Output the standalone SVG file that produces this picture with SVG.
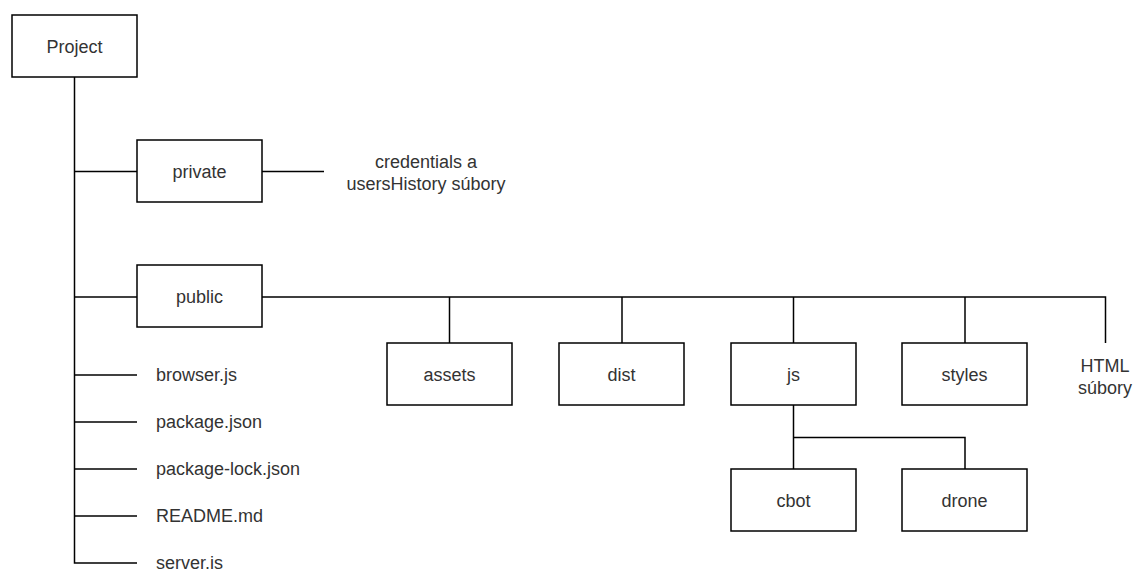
<svg xmlns="http://www.w3.org/2000/svg" width="1134" height="569" viewBox="0 0 1134 569">
  <style>
    .box { fill: #ffffff; stroke: #000000; stroke-width: 1.5; }
    .wire { fill: none; stroke: #000000; stroke-width: 1.5; }
    text { font-family: "Liberation Sans", Arial, sans-serif; font-size: 18px; fill: #333333; }
    .c { text-anchor: middle; }
  </style>
  <rect width="1134" height="569" fill="#ffffff"/>

  <!-- tree connectors -->
  <g id="connectors">
    <path class="wire" d="M74.5 77 V563 H137"/>
    <path class="wire" d="M74.5 171.5 H137"/>
    <path class="wire" d="M262 171.5 H324"/>
    <path class="wire" d="M74.5 297 H137"/>
    <path class="wire" d="M262 297 H1105.5 V343"/>
    <path class="wire" d="M449.5 297 V343"/>
    <path class="wire" d="M622 297 V343"/>
    <path class="wire" d="M793.5 297 V343"/>
    <path class="wire" d="M965 297 V343"/>
    <path class="wire" d="M74.5 375 H137"/>
    <path class="wire" d="M74.5 422 H137"/>
    <path class="wire" d="M74.5 469 H137"/>
    <path class="wire" d="M74.5 516 H137"/>
    <path class="wire" d="M793.5 405 V469"/>
    <path class="wire" d="M793.5 437.5 H965 V469"/>
  </g>

  <g id="project">
    <rect class="box" x="12" y="15" width="125" height="62"/>
    <text class="c" x="74.5" y="53">Project</text>
  </g>
  <g id="private">
    <rect class="box" x="137" y="140" width="125" height="62"/>
    <text class="c" x="199.5" y="178">private</text>
  </g>
  <g id="private-note">
    <text class="c" x="426" y="168">credentials a</text>
    <text class="c" x="426" y="190">usersHistory súbory</text>
  </g>
  <g id="public">
    <rect class="box" x="137" y="265" width="125" height="62"/>
    <text class="c" x="199.5" y="303">public</text>
  </g>
  <g id="assets">
    <rect class="box" x="387" y="343" width="125" height="62"/>
    <text class="c" x="449.5" y="381">assets</text>
  </g>
  <g id="dist">
    <rect class="box" x="559" y="343" width="125" height="62"/>
    <text class="c" x="621.5" y="381">dist</text>
  </g>
  <g id="js">
    <rect class="box" x="731" y="343" width="125" height="62"/>
    <text class="c" x="793.5" y="381">js</text>
  </g>
  <g id="styles">
    <rect class="box" x="902" y="343" width="125" height="62"/>
    <text class="c" x="964.5" y="381">styles</text>
  </g>
  <g id="html">
    <text class="c" x="1105" y="372">HTML</text>
    <text class="c" x="1105" y="394">súbory</text>
  </g>
  <g id="cbot">
    <rect class="box" x="731" y="469" width="125" height="62"/>
    <text class="c" x="793.5" y="507">cbot</text>
  </g>
  <g id="drone">
    <rect class="box" x="902" y="469" width="125" height="62"/>
    <text class="c" x="964.5" y="507">drone</text>
  </g>

  <g id="files">
    <text x="156" y="381">browser.js</text>
    <text x="156" y="428">package.json</text>
    <text x="156" y="475">package-lock.json</text>
    <text x="156" y="522">README.md</text>
    <text x="156" y="569">server.js</text>
  </g>
</svg>
